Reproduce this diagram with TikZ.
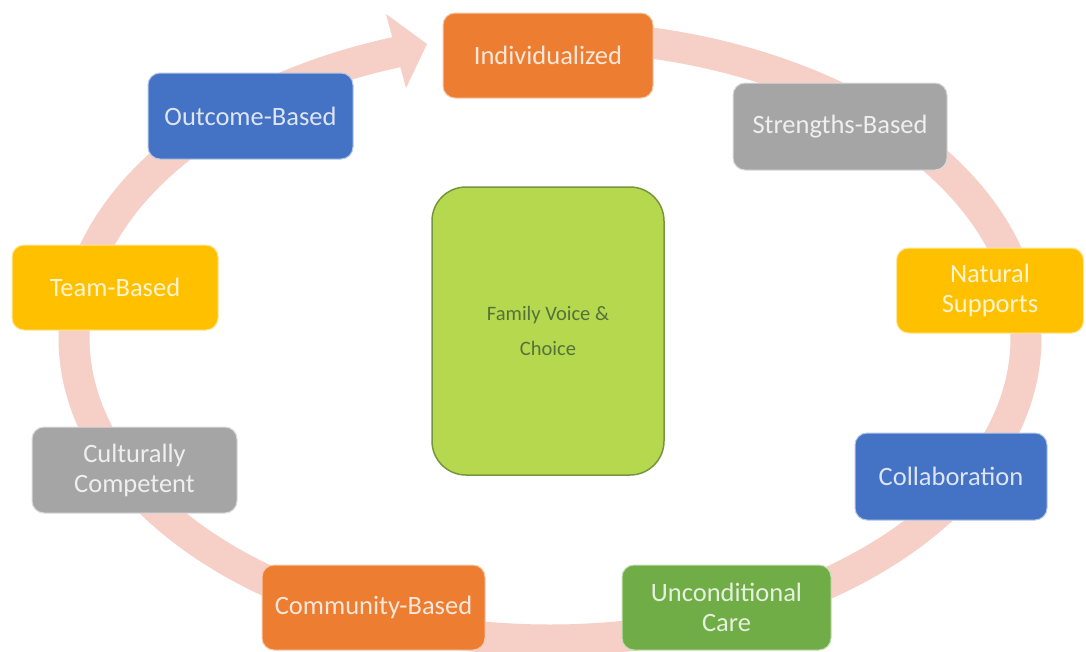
\documentclass[tikz,border=0pt]{standalone}
\usepackage{fontspec}
\setmainfont{Carlito}
\definecolor{ringc}{RGB}{246,207,198}
\definecolor{corange}{RGB}{237,125,49}
\definecolor{cgray}{RGB}{165,165,165}
\definecolor{cgold}{RGB}{255,192,0}
\definecolor{cblue}{RGB}{68,114,196}
\definecolor{cgreen}{RGB}{112,173,71}
\definecolor{clime}{RGB}{182,216,78}
\definecolor{climeb}{RGB}{118,150,62}
\definecolor{ctext}{RGB}{84,114,58}
\begin{document}
\begin{tikzpicture}[x=1pt,y=-1pt,
  box/.style={rounded corners=12pt, draw=white!60!#1, line width=1pt, fill=#1,
    text=white!82!#1, font=\fontsize{26.5}{30}\selectfont, align=center,
    inner sep=0pt, anchor=center},
  ringline/.style={draw=ringc, line width=31pt},
]
\useasboundingbox (0,0) rectangle (1086,651);
\fill[white] (0,0) rectangle (1086,651);
% ring (elliptical circular arrow, clockwise)
\draw[ringline] plot[domain=0:339.3, samples=300, smooth]
  ({550+476*cos(88-\x)}, {338-302*sin(88-\x)});
\coordinate (tip) at (427,44);
\coordinate (cA) at (386,14);
\coordinate (cB) at (406,88);
\fill[ringc] (tip) -- (cA) -- (cB) -- cycle;
% boxes
\node[box=corange, minimum width=210pt, minimum height=85pt] (indiv) at (548,55.5) {Individualized};
\node[box=cgray, minimum width=214pt, minimum height=87pt] (streng) at (840,126.5) {Strengths-Based};
\node[box=cgold, minimum width=187pt, minimum height=85pt] (natural) at (990,290.5) {Natural\\Supports};
\node[box=cblue, minimum width=192pt, minimum height=87pt] (collab) at (951,476.5) {Collaboration};
\node[box=cgreen, minimum width=209pt, minimum height=85pt] (uncond) at (726.5,607.5) {Unconditional\\Care};
\node[box=corange, minimum width=223pt, minimum height=85pt] (commun) at (373.5,607.5) {Community-Based};
\node[box=cgray, minimum width=205pt, minimum height=86pt] (cultur) at (134.5,470) {Culturally\\Competent};
\node[box=cgold, minimum width=206pt, minimum height=85pt] (team) at (115,287.5) {Team-Based};
\node[box=cblue, minimum width=205pt, minimum height=86pt] (outcome) at (250.5,116) {Outcome-Based};
% center
\node[rounded corners=34pt, draw=climeb, line width=1.5pt, fill=clime,
  minimum width=232pt, minimum height=288pt, inner sep=0pt,
  text=ctext, font=\fontsize{20.5}{35}\selectfont, align=center] (family) at (548,331) {Family Voice \&\\Choice};
\end{tikzpicture}
\end{document}
